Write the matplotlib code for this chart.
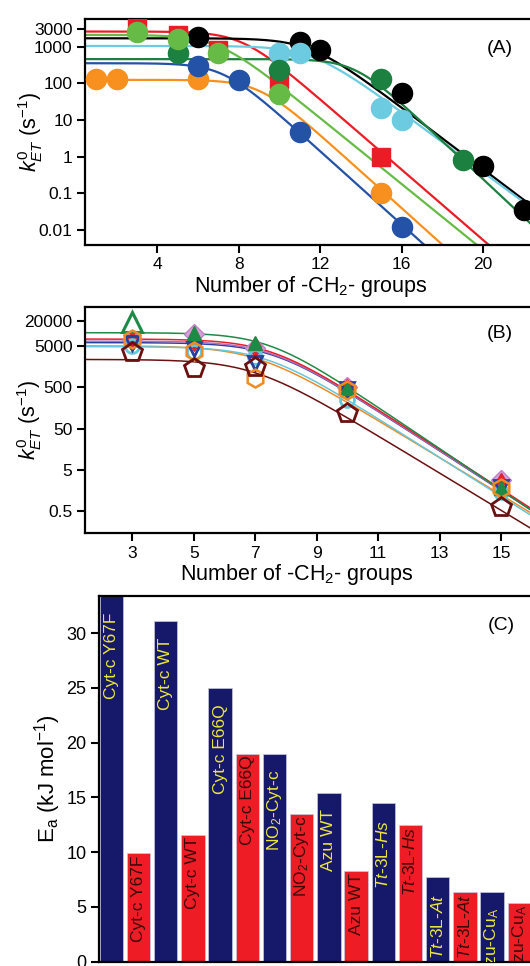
import numpy as np
import matplotlib
matplotlib.use("Agg")
import matplotlib.pyplot as plt

plt.rcParams['font.family'] = ['Liberation Sans', 'DejaVu Sans']
plt.rcParams['mathtext.fontset'] = 'custom'
plt.rcParams['mathtext.rm'] = 'Liberation Sans'
plt.rcParams['mathtext.it'] = 'Liberation Sans:italic'

# ---- panel A: measured rates vs chain length ----
a_black_n = [6, 11, 12, 16, 20, 22]
a_black_k = [1860, 1370, 810, 55, 0.55, 0.035]
a_dgreen_n = [5, 10, 15, 19]
a_dgreen_k = [660, 235, 130, 0.81]
a_cyan_n = [10, 11, 15, 16]
a_cyan_k = [660, 660, 21, 9.8]
a_red_n = [3, 5, 7, 10, 15]
a_red_k = [3800, 2100, 800, 130, 1.0]
a_lgreen_n = [3, 5, 7, 10]
a_lgreen_k = [2450, 1620, 660, 51]
a_orange_n = [1, 2, 6, 15]
a_orange_k = [130, 130, 130, 0.1]
a_blue_n = [6, 8, 11, 16]
a_blue_k = [300, 126, 4.6, 0.012]

# fit parameters: plateau, decades per CH2, crossover
a_fit_black = (1700, 0.42, 11.5)
a_fit_dgreen = (460, 0.52, 13.7)
a_fit_cyan = (1050, 0.41, 11.6)
a_fit_red = (2600, 0.48, 8.15)
a_fit_lgreen = (2100, 0.45, 6.96)
a_fit_orange = (125, 0.50, 9.0)
a_fit_blue = (355, 0.50, 7.2)

# ---- panel B ----
b_n = [3, 5, 7, 10, 15]
b_green = [19000, 10000, 6000, 480, 1.8]
b_violet = [7000, 9500, 4500, 520, 2.9]
b_red = [6500, 6500, 4800, 450, 2.4]
b_blue = [5800, 4100, 1900, 450, 2.0]
b_cyan = [5000, 3600, 2700, 245, 1.5]
b_orange = [7300, 3800, 830, 430, 1.8]
b_maroon = [3600, 1450, 1580, 118, 0.63]

b_fit_green = (10400, 0.50, 7.4)
b_fit_red = (7300, 0.48, 7.45)
b_fit_violet = (6500, 0.48, 7.5)
b_fit_blue = (6000, 0.48, 7.55)
b_fit_cyan = (4800, 0.47, 7.3)
b_fit_orange = (5000, 0.45, 7.0)
b_fit_maroon = (2350, 0.45, 6.9)

# ---- panel C: activation energies ----
c_labels = ['Cyt-c Y67F', 'Cyt-c Y67F', 'Cyt-c WT', 'Cyt-c WT',
            'Cyt-c E66Q', 'Cyt-c E66Q', r'NO$_2$-Cyt-c', r'NO$_2$-Cyt-c',
            'Azu WT', 'Azu WT', r'$\it{Tt}$-3L-$\it{Hs}$', r'$\it{Tt}$-3L-$\it{Hs}$',
            r'$\it{Tt}$-3L-$\it{At}$', r'$\it{Tt}$-3L-$\it{At}$',
            r'Azu-Cu$_\mathrm{A}$', r'Azu-Cu$_\mathrm{A}$']
c_values = [35.0, 9.9, 31.1, 11.6, 25.0, 19.0, 19.0, 13.5,
            15.4, 8.3, 14.5, 12.5, 7.7, 6.4, 6.4, 5.35]


def fit_curve(n, params):
    kmax, slope, nc = params
    return kmax / (1 + 10 ** (slope * (n - nc)))


def style_axes(ax):
    for s in ax.spines.values():
        s.set_linewidth(1.6)
    ax.tick_params(direction='out', length=6, width=1.5, labelsize=12.5, pad=3)


fig = plt.figure(figsize=(5.3, 9.66), dpi=100)

# ---------- A ----------
axA = fig.add_axes([0.1604, 0.7464, 0.851, 0.2339])
axA.set_yscale('log')
nn = np.linspace(0.45, 23, 400)
seriesA = [
    (a_orange_n, a_orange_k, a_fit_orange, '#f7901e', 'o'),
    (a_blue_n, a_blue_k, a_fit_blue, '#2452a6', 'o'),
    (a_red_n, a_red_k, a_fit_red, '#ea1d27', 's'),
    (a_black_n, a_black_k, a_fit_black, '#000000', 'o'),
    (a_cyan_n, a_cyan_k, a_fit_cyan, '#6ccbe0', 'o'),
    (a_dgreen_n, a_dgreen_k, a_fit_dgreen, '#1b8040', 'o'),
    (a_lgreen_n, a_lgreen_k, a_fit_lgreen, '#66bb46', 'o'),
]
for n, k, p, col, mk in seriesA:
    axA.plot(nn, fit_curve(nn, p), color=col, lw=1.6, zorder=2)
for n, k, p, col, mk in seriesA:
    ms = 13 if mk == 's' else 14.5
    axA.plot(n, k, mk, color=col, ms=ms, mec=col, zorder=3)
axA.set_xlim(0.45, 22.6)
axA.set_ylim(0.0039, 5700)
axA.set_xticks([4, 8, 12, 16, 20])
axA.set_yticks([0.01, 0.1, 1, 10, 100, 1000, 3000])
axA.set_yticklabels(['0.01', '0.1', '1', '10', '100', '1000', '3000'])
axA.minorticks_off()
style_axes(axA)
axA.set_xlabel('Number of -CH$_2$- groups', fontsize=15.5, labelpad=1)
axA.set_ylabel(r'$k^{\mathit{0}}_{ET}$ (s$^{-1}$)', fontsize=15.5)
axA.yaxis.set_label_coords(-0.088, 0.5)
axA.text(0.89, 0.87, '(A)', transform=axA.transAxes, fontsize=14, va='center')

# ---------- B ----------
axB = fig.add_axes([0.1604, 0.4479, 0.93, 0.234])
axB.set_yscale('log')
nb = np.linspace(1.46, 18, 400)
linesB = [(b_fit_maroon, '#6b1010'), (b_fit_orange, '#f08a24'),
          (b_fit_cyan, '#66c6dc'), (b_fit_blue, '#2a3f9c'),
          (b_fit_violet, '#b070c0'), (b_fit_red, '#e8202a'),
          (b_fit_green, '#1e8a45')]
for p, col in linesB:
    axB.plot(nb, fit_curve(nb, p), color=col, lw=1.1, zorder=2)
axB.plot(b_n, b_violet, 'D', color='#d8a0d8', ms=10, mec='#c080c8', zorder=3)
axB.plot(b_n, b_red, 'd', color='#e8202a', ms=10, zorder=3)
axB.plot(b_n, b_cyan, 'o', mfc='none', mec='#66c6dc', mew=2, ms=10, zorder=3)
axB.plot(b_n, b_blue, 'v', mfc='none', mec='#2a3f9c', mew=2, ms=10, zorder=3)
axB.plot(b_n[1:], b_green[1:], '^', color='#1e8a45', ms=10, zorder=4)
axB.plot(b_n[:1], b_green[:1], '^', mfc='none', mec='#1e8a45', mew=2.2, ms=15, zorder=4)
axB.plot(b_n, b_orange, 'h', mfc='none', mec='#f08a24', mew=1.8, ms=13, zorder=4)
axB.plot(b_n, b_maroon, 'p', mfc='none', mec='#6b1010', mew=2, ms=15, zorder=5)
axB.set_xlim(1.46, 17.5)
axB.set_ylim(0.148, 42700)
axB.set_xticks([3, 5, 7, 9, 11, 13, 15])
axB.set_yticks([0.5, 5, 50, 500, 5000, 20000])
axB.set_yticklabels(['0.5', '5', '50', '500', '5000', '20000'])
axB.minorticks_off()
style_axes(axB)
axB.set_xlabel('Number of -CH$_2$- groups', fontsize=15.5, labelpad=1)
axB.xaxis.set_label_coords(0.43, -0.125)
axB.set_ylabel(r'$k^{\mathit{0}}_{ET}$ (s$^{-1}$)', fontsize=15.5)
axB.yaxis.set_label_coords(-0.083, 0.5)
axB.text(0.815, 0.885, '(B)', transform=axB.transAxes, fontsize=14, va='center')

# ---------- C ----------
axC = fig.add_axes([0.1868, 0.00445, 0.87, 0.3786])
x = np.arange(len(c_values))
cols = ['#16186a' if i % 2 == 0 else '#ee1c25' for i in x]
axC.bar(x, c_values, width=0.86, color=cols, edgecolor='#c8c8e0', linewidth=0.5)
for i, (lab, v) in enumerate(zip(c_labels, c_values)):
    gap = 1.5 if i % 2 == 0 else 0.2
    top = min(v, 33.4) - gap
    tc = '#ece63a' if i % 2 == 0 else '#3a0808'
    axC.text(i, top, lab, rotation=90, ha='center', va='top', color=tc,
             fontsize=12.5, clip_on=True)
axC.set_xlim(-0.45, 16.5)
axC.set_ylim(0, 33.4)
axC.set_yticks([0, 5, 10, 15, 20, 25, 30])
axC.set_xticks([])
style_axes(axC)
axC.tick_params(labelsize=13)
axC.set_ylabel(r'E$_\mathrm{a}$ (kJ mol$^{-1}$)', fontsize=16)
axC.yaxis.set_label_coords(-0.078, 0.5)
axC.text(0.843, 0.92, '(C)', transform=axC.transAxes, fontsize=14, va='center')

fig.savefig('out.png', dpi=100)
